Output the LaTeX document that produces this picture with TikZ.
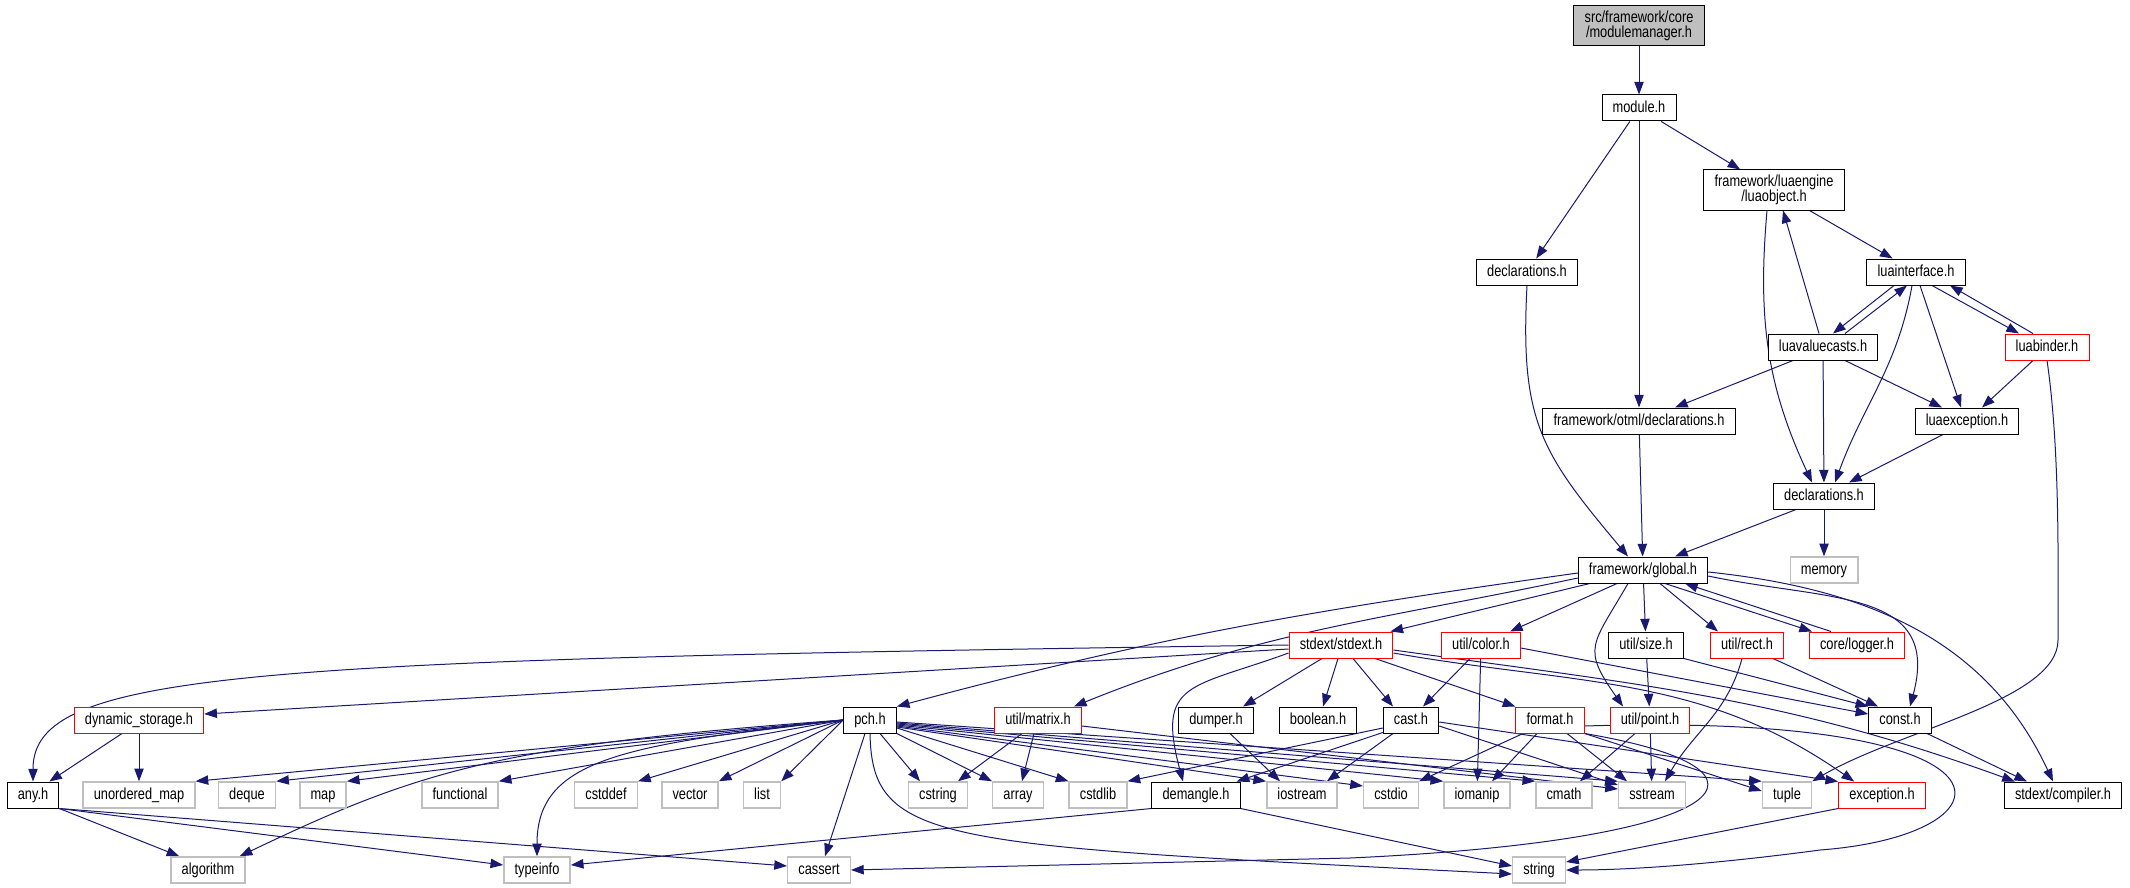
\documentclass[tikz,border=0pt]{standalone}
\usepackage{fontspec}
\setmainfont{Liberation Sans}[FakeStretch=0.8]
\usepackage{tikz}
\usetikzlibrary{arrows.meta,calc,backgrounds}

\definecolor{kantenblau}{HTML}{191970}
\definecolor{grau}{HTML}{BFBFBF}

\begin{document}
\begin{tikzpicture}[x=0.75pt,y=-0.75pt,
    datei/.style={draw=black,line width=0.75pt,fill=white,
        font=\fontsize{12}{11.5}\selectfont,align=center,
        inner xsep=8pt,inner ysep=3.6pt,minimum height=19.5pt,
        text height=8.8pt,text depth=2.5pt},
    zweizeilig/.style={datei,text height=20.3pt},
    dateirot/.style={datei,draw=red},
    sysdatei/.style={datei,draw=grau,line width=1.1pt},
    pfeil/.style={draw=kantenblau,line width=0.75pt,
        -{Triangle[length=9.5pt,width=7pt]}}]

    \useasboundingbox (0,0) rectangle (2130,888);

    % Lua- und Modulteil
    \node[zweizeilig,fill=grau] (modulemanager) at (1639,26) {src/framework/core\\/modulemanager.h};
    \node[datei] (module) at (1639,108) {module.h};
    \node[zweizeilig] (luaobject) at (1774,190) {framework/luaengine\\/luaobject.h};
    \node[datei] (declarationsA) at (1527,272) {declarations.h};
    \node[datei] (luainterface) at (1916,272) {luainterface.h};
    \node[datei] (luavaluecasts) at (1823,347) {luavaluecasts.h};
    \node[dateirot] (luabinder) at (2047,347) {luabinder.h};
    \node[datei] (otmldecl) at (1639,421) {framework/otml/declarations.h};
    \node[datei] (luaexception) at (1967,421) {luaexception.h};
    \node[datei] (declarationsB) at (1824,496) {declarations.h};
    \node[datei] (global) at (1643,570) {framework/global.h};
    \node[sysdatei] (memory) at (1824,570) {memory};

    % Ebene unter global.h
    \node[dateirot] (stdext) at (1341,645) {stdext/stdext.h};
    \node[dateirot] (color) at (1481,645) {util/color.h};
    \node[datei] (size) at (1646,645) {util/size.h};
    \node[dateirot] (rect) at (1747,645) {util/rect.h};
    \node[dateirot] (logger) at (1857,645) {core/logger.h};

    \node[dateirot] (dynstorage) at (139,720) {dynamic\_storage.h};
    \node[datei] (pch) at (870,720) {pch.h};
    \node[dateirot] (matrix) at (1038,720) {util/matrix.h};
    \node[datei] (dumper) at (1216,720) {dumper.h};
    \node[datei] (boolean) at (1318,720) {boolean.h};
    \node[datei] (cast) at (1411,720) {cast.h};
    \node[dateirot] (format) at (1550,720) {format.h};
    \node[dateirot] (point) at (1650,720) {util/point.h};
    \node[datei] (const) at (1900,720) {const.h};

    % Systemheader
    \node[datei] (any) at (33,795) {any.h};
    \foreach \n/\x/\t in {umap/139/unordered\_map, deque/247/deque, map/323/map,
            functional/460/functional, cstddef/606/cstddef, vector/690/vector,
            list/762/list, cstring/938/cstring, array/1018/array, cstdlib/1098/cstdlib,
            iostream/1302/iostream, cstdio/1391/cstdio, iomanip/1477/iomanip,
            cmath/1564/cmath, sstream/1652/sstream, tuple/1787/tuple} {
        \node[sysdatei] (\n) at (\x,795) {\t};
    }
    \node[datei] (demangle) at (1196,795) {demangle.h};
    \node[dateirot] (exception) at (1882,795) {exception.h};
    \node[datei] (compiler) at (2063,795) {stdext/compiler.h};

    \foreach \n/\x in {algorithm/208, typeinfo/537, cassert/819, string/1539} {
        \node[sysdatei] (\n) at (\x,870) {\n};
    }

    \begin{scope}[on background layer]
    % Kanten oben
    \draw[pfeil] (modulemanager) -- (module);
    \draw[pfeil] (module) -- (declarationsA);
    \draw[pfeil] (module) -- (otmldecl);
    \draw[pfeil] (module) -- (luaobject);
    \draw[pfeil] (luaobject) -- (luainterface);
    \draw[pfeil] ($(luaobject.south)+(-7,0)$) to[out=-95,in=115] ($(declarationsB.north)+(-12,0)$);
    \draw[pfeil] (declarationsA.south) to[out=-93,in=130,looseness=1.2] ($(global.north)+(-15,0)$);
    \draw[pfeil] ($(luainterface.south)+(-22,0)$) -- ($(luavaluecasts.north)+(10,0)$);
    \draw[pfeil] ($(luavaluecasts.north)+(22,0)$) -- ($(luainterface.south)+(-9,0)$);
    \draw[pfeil] ($(luainterface.south)+(16,0)$) -- ($(luabinder.north)+(-28,0)$);
    \draw[pfeil] ($(luabinder.north)+(-14,0)$) -- ($(luainterface.south)+(34,0)$);
    \draw[pfeil] ($(luainterface.south)+(4,0)$) -- ($(luaexception.north)+(-6,0)$);
    \draw[pfeil] ($(luainterface.south)+(-4,0)$) to[out=-100,in=70] ($(declarationsB.north)+(11,0)$);
    \draw[pfeil] ($(luavaluecasts.north)+(-4,0)$) -- ($(luaobject.south)+(9,0)$);
    \draw[pfeil] ($(luavaluecasts.south)+(-30,0)$) -- ($(otmldecl.north)+(36,0)$);
    \draw[pfeil] (luavaluecasts) -- (declarationsB);
    \draw[pfeil] ($(luavaluecasts.south)+(22,0)$) -- ($(luaexception.north)+(-25,0)$);
    \draw[pfeil] ($(luabinder.south)+(-14,0)$) -- ($(luaexception.north)+(15,0)$);
    \draw[pfeil] (luabinder.south) .. controls (2060,450) and (2058,560) .. (2058,640)
        .. controls (2058,700) and (1900,730) .. (tuple.north east);
    \draw[pfeil] ($(luaexception.south)+(-24,0)$) -- ($(declarationsB.north)+(25,0)$);
    \draw[pfeil] (otmldecl) -- (global);
    \draw[pfeil] ($(declarationsB.south)+(-28,0)$) -- ($(global.north)+(32,0)$);
    \draw[pfeil] (declarationsB) -- (memory);

    % Kanten von global.h
    \draw[pfeil] ($(global.west)+(0,3)$) to[out=188,in=15] (pch.north east);
    \draw[pfeil] ($(global.west)+(0,8)$) to[out=192,in=22] ($(matrix.north east)+(-8,0)$);
    \draw[pfeil] ($(global.south west)+(12,0)$) -- ($(stdext.north east)+(-3,0)$);
    \draw[pfeil] ($(global.south)+(-26,0)$) -- ($(color.north)+(29,0)$);
    \draw[pfeil] (global) -- (size);
    \draw[pfeil] ($(global.south)+(-15,0)$) to[out=-120,in=125,looseness=1.5] ($(point.north)+(-27,0)$);
    \draw[pfeil] ($(global.south)+(17,0)$) -- ($(rect.north)+(-29,0)$);
    \draw[pfeil] ($(global.south)+(22,0)$) -- ($(logger.north)+(-45,0)$);
    \draw[pfeil] ($(logger.north)+(-26,0)$) -- ($(global.south)+(42,0)$);
    \draw[pfeil] ($(global.east)+(0,6)$) to[out=-12,in=75,looseness=1.3] ($(const.north)+(10,0)$);
    \draw[pfeil] ($(global.east)+(0,2)$) to[out=-6,in=115] ($(compiler.north)+(-10,0)$);

    % Kanten von stdext.h
    \draw[pfeil] (stdext.west) .. controls (250,660) and (33,670) .. (any.north);
    \draw[pfeil] ($(stdext.west)+(0,4)$) -- ($(dynstorage.east)+(0,-6)$);
    \draw[pfeil] ($(stdext.west)+(0,8)$) to[out=200,in=105,looseness=1.6] ($(demangle.north)+(-13,0)$);
    \draw[pfeil] ($(stdext.south)+(-19,0)$) -- ($(dumper.north)+(27,0)$);
    \draw[pfeil] ($(stdext.south)+(-3,0)$) -- ($(boolean.north)+(5,0)$);
    \draw[pfeil] ($(stdext.south)+(12,0)$) -- ($(cast.north)+(-18,0)$);
    \draw[pfeil] ($(stdext.south)+(34,0)$) -- (format.north west);
    \draw[pfeil] ($(stdext.east)+(0,8)$) to[out=-10,in=145] ($(exception.north west)+(16,0)$);
    \draw[pfeil] ($(stdext.east)+(0,5)$) to[out=-8,in=160] ($(compiler.north west)+(11,0)$);

    % cast.h, format.h und util
    \draw[pfeil] ($(cast.south west)+(0,-1)$) -- ($(demangle.north east)+(-4,0)$);
    \draw[pfeil] ($(cast.west)+(0,8)$) -- (cstdlib.north east);
    \draw[pfeil] ($(cast.south)+(-18,0)$) -- ($(iostream.north east)+(-11,0)$);
    \draw[pfeil] ($(cast.east)+(0,6)$) -- ($(sstream.west)+(0,-10)$);
    \draw[pfeil] ($(cast.east)+(0,2)$) -- (exception.north west);
    \draw[pfeil] ($(format.south)+(-27,0)$) -- (cstdio.north east);
    \draw[pfeil] ($(format.south)+(-13,0)$) -- ($(iomanip.north)+(15,0)$);
    \draw[pfeil] ($(format.south)+(17,0)$) -- ($(sstream.north)+(-25,0)$);
    \draw[pfeil] (format.south east) -- ($(tuple.west)+(0,-4)$);
    \draw[pfeil] (format.south east) .. controls (1800,770) and (1740,840) .. (1350,858) -- (cassert.east);
    \draw[pfeil] ($(format.east)+(0,6)$) .. controls (2040,712) and (2020,835) .. (1820,850)
        .. controls (1700,866) and (1620,870) .. (string.east);
    \draw[pfeil] (exception.south west) -- ($(string.east)+(0,-8)$);
    \draw[pfeil] ($(point.south)+(-15,0)$) -- ($(cmath.north)+(16,0)$);
    \draw[pfeil] (point) -- (sstream);
    \draw[pfeil] ($(color.south)+(-11,0)$) -- ($(cast.north)+(12,0)$);
    \draw[pfeil] (color) -- (iomanip);
    \draw[pfeil] ($(color.east)+(0,3)$) -- ($(const.west)+(0,-6)$);
    \draw[pfeil] (size) -- (point);
    \draw[pfeil] (size.south east) -- (const.north west);
    \draw[pfeil] ($(rect.south)+(-5,0)$) to[out=-105,in=60] ($(sstream.north)+(13,0)$);
    \draw[pfeil] ($(rect.south)+(26,0)$) -- ($(const.north west)+(10,0)$);
    \draw[pfeil] ($(const.south)+(27,0)$) -- ($(compiler.north)+(-36,0)$);
    \draw[pfeil] ($(dumper.south)+(14,0)$) -- ($(iostream.north)+(-22,0)$);
    \draw[pfeil] ($(matrix.south)+(-16,0)$) -- ($(cstring.north)+(20,0)$);
    \draw[pfeil] ($(matrix.south)+(-4,0)$) -- ($(array.north)+(4,0)$);
    \draw[pfeil] ($(matrix.east)+(0,6)$) -- ($(sstream.west)+(0,-6)$);
    \draw[pfeil] (demangle.south west) -- ($(typeinfo.east)+(0,-5)$);
    \draw[pfeil] (demangle.south east) -- ($(string.west)+(0,-4)$);

    % links: any.h und dynamic_storage.h
    \draw[pfeil] ($(dynstorage.south)+(-17,0)$) -- ($(any.north east)+(-10,0)$);
    \draw[pfeil] (dynstorage) -- (umap);
    \draw[pfeil] (any.south east) -- ($(algorithm.north west)+(9,0)$);
    \draw[pfeil] (any.south east) -- ($(typeinfo.west)+(0,-5)$);
    \draw[pfeil] (any.south east) -- ($(cassert.west)+(0,-4)$);

    % Kanten von pch.h
    \foreach \z in {umap.north east, deque.north east, map.north east, functional.north east,
            cstddef.north east, vector.north east, list.north east} {
        \draw[pfeil] (pch.west) -- (\z);
    }
    \draw[pfeil] (pch.west) .. controls (500,745) and (420,770) .. ($(algorithm.north east)+(-6,0)$);
    \draw[pfeil] (pch.west) .. controls (620,745) and (537,760) .. (typeinfo.north);
    \draw[pfeil] ($(pch.south)+(-5,0)$) -- ($(cassert.north)+(6,0)$);
    \draw[pfeil] (pch.south) .. controls (872,845) and (940,845) .. ($(string.west)+(0,4)$);
    \draw[pfeil] ($(pch.south)+(10,0)$) -- ($(cstring.north)+(-18,0)$);
    \draw[pfeil] (pch.south east) -- (array.north west);
    \draw[pfeil] ($(pch.east)+(0,8)$) -- (cstdlib.north west);
    \draw[pfeil] ($(pch.east)+(0,7)$) -- (iostream.north west);
    \draw[pfeil] ($(pch.east)+(0,6)$) -- ($(cstdio.west)+(0,-9)$);
    \draw[pfeil] ($(pch.east)+(0,5)$) -- (iomanip.north west);
    \draw[pfeil] ($(pch.east)+(0,4)$) -- (cmath.north west);
    \draw[pfeil] ($(pch.east)+(0,3)$) -- (sstream.north west);
    \draw[pfeil] ($(pch.east)+(0,2)$) -- (tuple.north west);
    \end{scope}
\end{tikzpicture}
\end{document}
